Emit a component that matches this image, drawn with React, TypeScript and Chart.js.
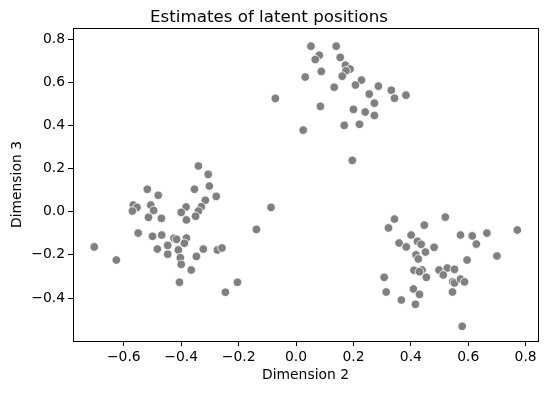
import React, { useEffect, useRef } from "react";
import { Chart, registerables } from "chart.js";

Chart.register(...registerables);

// Dimension 2 (x) and Dimension 3 (y) estimates, by visible cluster
const topX = [0.052, 0.140, 0.081, 0.067, 0.154, 0.172, 0.188, 0.174, 0.088, 0.032, 0.161, 0.228, 0.207, 0.133, 0.287, 0.332, 0.255, 0.383, 0.343, -0.072, 0.273, 0.085, 0.200, 0.241, 0.273, 0.168, 0.221, 0.025, 0.196];
const topY = [0.767, 0.767, 0.725, 0.705, 0.715, 0.679, 0.661, 0.653, 0.650, 0.624, 0.628, 0.610, 0.587, 0.577, 0.582, 0.563, 0.545, 0.540, 0.526, 0.525, 0.503, 0.488, 0.474, 0.462, 0.446, 0.400, 0.405, 0.378, 0.238];

const leftX = [-0.340, -0.306, -0.518, -0.354, -0.302, -0.480, -0.278, -0.316, -0.567, -0.554, -0.506, -0.570, -0.496, -0.330, -0.383, -0.400, -0.340, -0.350, -0.514, -0.469, -0.382, -0.087, -0.138, -0.550, -0.500, -0.468, -0.425, -0.416, -0.382, -0.447, -0.389, -0.483, -0.410, -0.323, -0.274, -0.258, -0.447, -0.347, -0.403, -0.400, -0.365, -0.703, -0.626, -0.406, -0.204, -0.246];
const leftY = [0.212, 0.173, 0.104, 0.104, 0.119, 0.076, 0.071, 0.053, 0.031, 0.020, 0.031, 0.003, 0.006, 0.023, 0.022, -0.003, 0.003, -0.021, -0.026, -0.031, -0.038, 0.020, -0.082, -0.099, -0.114, -0.108, -0.123, -0.128, -0.122, -0.156, -0.146, -0.173, -0.177, -0.173, -0.177, -0.168, -0.197, -0.207, -0.213, -0.244, -0.270, -0.163, -0.224, -0.327, -0.327, -0.373];

const rightX = [0.343, 0.520, 0.322, 0.447, 0.573, 0.614, 0.665, 0.771, 0.401, 0.359, 0.423, 0.436, 0.384, 0.628, 0.481, 0.451, 0.418, 0.426, 0.596, 0.700, 0.411, 0.439, 0.430, 0.498, 0.527, 0.552, 0.513, 0.454, 0.307, 0.546, 0.552, 0.573, 0.587, 0.409, 0.430, 0.314, 0.367, 0.416, 0.545, 0.579];
const rightY = [-0.034, -0.025, -0.075, -0.062, -0.108, -0.112, -0.099, -0.085, -0.108, -0.145, -0.137, -0.151, -0.163, -0.150, -0.165, -0.187, -0.200, -0.219, -0.224, -0.205, -0.271, -0.270, -0.278, -0.270, -0.261, -0.267, -0.293, -0.304, -0.304, -0.325, -0.330, -0.312, -0.325, -0.358, -0.383, -0.372, -0.409, -0.429, -0.372, -0.531];

const xTicks = [-0.6, -0.4, -0.2, 0.0, 0.2, 0.4, 0.6, 0.8];
const yTicks = [-0.4, -0.2, 0.0, 0.2, 0.4, 0.6, 0.8];

const titleText = "Estimates of latent positions";
const xLabel = "Dimension 2";
const yLabel = "Dimension 3";

const FONT = "'DejaVu Sans', sans-serif";

function fmt(v: number): string {
  const s = Math.abs(v).toFixed(1);
  return v < -1e-9 ? "\u2212" + s : s;
}

const framePlugin = {
  id: "frame",
  afterDraw(chart: any) {
    const { ctx, chartArea } = chart;
    ctx.save();
    ctx.strokeStyle = "#000";
    ctx.lineWidth = 1;
    ctx.strokeRect(
      Math.round(chartArea.left) + 0.5,
      Math.round(chartArea.top) + 0.5,
      Math.round(chartArea.right - chartArea.left),
      Math.round(chartArea.bottom - chartArea.top)
    );
    ctx.restore();
  },
};

export default function App() {
  const ref = useRef<HTMLCanvasElement | null>(null);

  useEffect(() => {
    document.body.style.margin = "0";
    const allX = [...topX, ...leftX, ...rightX];
    const allY = [...topY, ...leftY, ...rightY];
    const points = allX.map((x, i) => ({ x, y: allY[i] }));
    const chart = new Chart(ref.current as HTMLCanvasElement, {
      type: "scatter",
      data: {
        datasets: [
          {
            data: points,
            backgroundColor: "#808080",
            borderColor: "#ffffff",
            borderWidth: 0.8,
            pointRadius: 4.3,
            pointHoverRadius: 4.3,
          },
        ],
      },
      options: {
        responsive: false,
        animation: false,
        layout: { padding: { left: 0, right: 9, top: 0, bottom: 0 } },
        plugins: {
          legend: { display: false },
          tooltip: { enabled: false },
          title: {
            display: true,
            text: titleText,
            color: "#000",
            font: { family: FONT, size: 16.7, weight: "normal" },
            padding: { top: 8, bottom: 0 },
          },
        },
        scales: {
          x: {
            type: "linear",
            min: -0.777,
            max: 0.843,
            afterBuildTicks: (s: any) => {
              s.ticks = xTicks.map((v) => ({ value: v }));
            },
            afterFit: (s: any) => {
              s.height = 52;
            },
            grid: { drawOnChartArea: false, drawTicks: true, tickLength: 5, color: "#000" },
            border: { display: true, color: "#000" },
            ticks: {
              color: "#000",
              padding: 3,
              font: { family: FONT, size: 13.9 },
              maxRotation: 0,
              callback: (v: any) => fmt(Number(v)),
            },
            title: {
              display: true,
              text: xLabel,
              color: "#000",
              font: { family: FONT, size: 13.9 },
              padding: { top: 0, bottom: 9 },
            },
          },
          y: {
            type: "linear",
            min: -0.599,
            max: 0.851,
            afterBuildTicks: (s: any) => {
              s.ticks = yTicks.map((v) => ({ value: v }));
            },
            afterFit: (s: any) => {
              s.width = 73;
            },
            grid: { drawOnChartArea: false, drawTicks: true, tickLength: 5, color: "#000" },
            border: { display: true, color: "#000" },
            ticks: {
              color: "#000",
              padding: 3,
              font: { family: FONT, size: 13.9 },
              callback: (v: any) => fmt(Number(v)),
            },
            title: {
              display: true,
              text: yLabel,
              color: "#000",
              font: { family: FONT, size: 13.9 },
              padding: { top: 9, bottom: 0 },
            },
          },
        },
      },
      plugins: [framePlugin],
    });
    return () => chart.destroy();
  }, []);

  return <canvas ref={ref} width={547} height={393} style={{ display: "block" }} />;
}
